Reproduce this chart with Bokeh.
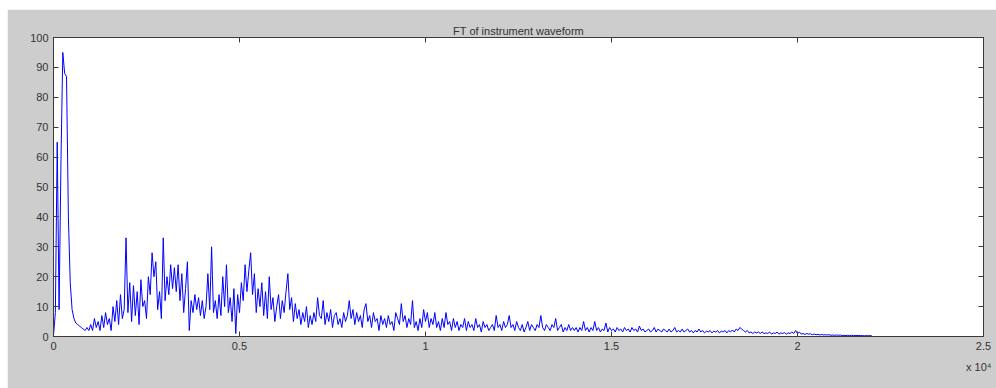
import numpy as np
from bokeh.plotting import figure
from bokeh.models import Range1d, LinearAxis, FixedTicker, Title, Spacer
from bokeh.layouts import column, row
from bokeh.embed import file_html
from bokeh.resources import INLINE

# ---- data ----
title_text = "FT of instrument waveform"
bin_width_hz = 50
amplitude = [
    # 0 - 950 Hz
    0.5, 8, 65, 9, 58, 95, 88, 87, 40, 18, 9, 6, 4.5, 4, 3.5, 3, 2.5, 2, 3, 2,
    # 1000 - 1950
    4, 2, 6, 3, 5, 2, 7, 3, 8, 4, 6, 2, 10, 5, 12, 4, 14, 6, 9, 33,
    # 2000 - 2950
    8, 18, 5, 17, 7, 15, 4, 19, 10, 12, 6, 20, 14, 28, 20, 25, 9, 15, 6, 33,
    # 3000 - 3950
    12, 20, 14, 24, 16, 23, 15, 24, 12, 21, 8, 16, 25, 2, 12, 8, 14, 9, 13, 7,
    # 4000 - 4950
    12, 6, 10, 21, 9, 30, 8, 12, 6, 14, 7, 20, 10, 24, 8, 13, 5, 16, 1, 14,
    # 5000 - 5950
    8, 18, 12, 24, 15, 22, 28, 14, 21, 8, 16, 10, 18, 7, 15, 6, 20, 9, 13, 5,
    # 6000 - 6950
    10, 14, 6, 12, 8, 15, 21, 9, 13, 5, 11, 6, 9, 4, 8, 5, 10, 3, 7, 4,
    # 7000 - 7950
    8, 5, 13, 7, 6, 12, 4, 8, 5, 9, 3, 7, 8, 4, 6, 3, 8, 5, 7, 12,
    # 8000 - 8950
    6, 9, 4, 8, 5, 7, 3, 9, 11, 5, 7, 3, 8, 5, 6, 2, 7, 4, 6, 3,
    # 9000 - 9950
    7, 4, 5, 2, 8, 6, 4, 11, 5, 7, 3, 6, 4, 12, 3, 5, 2, 6, 3, 9,
    # 10000 - 10950
    5, 8, 3, 6, 4, 8, 3, 5, 2, 6, 3, 8, 4, 5, 2, 6, 3, 5, 2, 4,
    # 11000 - 11950
    3, 6, 2, 5, 3, 4, 2, 6, 3, 4, 1.5, 5, 3, 4, 2, 3, 4, 2, 7, 3,
    # 12000 - 12950
    4, 2, 5, 3, 4, 7, 3, 4, 2, 5, 3, 2, 4, 1.5, 3, 5, 2, 4, 3, 2,
    # 13000 - 13950
    4, 3, 7, 3, 2, 4, 3, 2, 4, 3, 6, 2, 3, 4, 1.5, 3, 2, 4, 2, 3,
    # 14000 - 14950
    2, 3, 1.5, 3, 2, 5, 2, 3, 1.5, 3, 2, 5, 2, 3, 1.5, 2.5, 2, 4.5, 1.5, 3,
    # 15000 - 15950
    2, 2.5, 1.5, 3, 2, 2.5, 1.5, 3, 2, 2.5, 1.5, 3, 2, 2.5, 1.5, 3.5, 2, 2.5, 1.5, 2,
    # 16000 - 16950
    2.5, 1.5, 2, 3, 1.5, 2.5, 2, 1.5, 2.5, 2, 1.5, 2.5, 1.5, 2, 3, 1.5, 2, 1.5, 2.5, 1.5,
    # 17000 - 17950
    2, 2.5, 1.5, 2, 1.2, 2, 1.5, 2.5, 1.5, 2, 1.2, 1.8, 1.5, 2, 1.2, 1.8, 1.5, 2, 1.2, 1.8,
    # 18000 - 18950
    1.5, 2, 1.2, 2, 1.5, 2.2, 1.5, 2.5, 2, 3, 2.5, 2, 1.5, 2, 1.2, 1.5, 1, 1.5, 1.2, 1.5,
    # 19000 - 19950
    1, 1.5, 1, 1.2, 1, 1.5, 0.8, 1.2, 1, 1.5, 0.8, 1.2, 1, 1.3, 0.8, 1.2, 1, 1.5, 1, 2,
    # 20000 - 20950
    1, 1.5, 0.8, 1, 0.7, 1, 0.8, 0.9, 0.6, 0.8, 0.6, 0.7, 0.5, 0.7, 0.5, 0.6, 0.5, 0.6, 0.4, 0.5,
    # 21000 - 22000
    0.4, 0.5, 0.4, 0.5, 0.3, 0.4, 0.3, 0.4, 0.3, 0.4, 0.3, 0.35, 0.3, 0.35, 0.3, 0.3, 0.25, 0.3, 0.25, 0.3, 0.2,
]
frequency = np.arange(len(amplitude)) * bin_width_hz

x_ticks = [0, 5000, 10000, 15000, 20000, 25000]
x_tick_labels = ["0", "0.5", "1", "1.5", "2", "2.5"]
y_ticks = [0, 10, 20, 30, 40, 50, 60, 70, 80, 90, 100]
x_exponent_label = "x 10\u2074"

# ---- styling ----
FONT = "Liberation Sans"
GRAY_BG = "#cdcdcd"
AX = "#3a3a3a"
TXT = "#333333"

p = figure(
    width=989, height=379,
    x_range=Range1d(0, 25000), y_range=Range1d(0, 100),
    output_backend="svg", toolbar_location=None,
    title=title_text,
    min_border_left=46, min_border_right=13, min_border_top=28, min_border_bottom=52,
    background_fill_color="white", border_fill_color=GRAY_BG,
    outline_line_color=AX, outline_line_width=1,
)
p.title.align = "center"
p.title.text_font = FONT
p.title.text_font_size = "11px"
p.title.text_font_style = "normal"
p.title.text_color = TXT
p.title.standoff = 2

p.xgrid.visible = False
p.ygrid.visible = False

p.line(frequency, amplitude, line_color="#0000ff", line_width=1)

def style_axis(ax, ticks, show_labels=True, overrides=None):
    ax.ticker = FixedTicker(ticks=ticks)
    ax.axis_line_color = AX
    ax.major_tick_line_color = AX
    ax.major_tick_in = 5
    ax.major_tick_out = 0
    ax.minor_tick_line_color = None
    ax.major_label_text_font = FONT
    ax.major_label_text_font_size = "11px"
    ax.major_label_text_color = TXT
    if show_labels:
        if overrides:
            ax.major_label_overrides = overrides
        ax.major_label_standoff = 5
    else:
        ax.major_label_overrides = {t: "" for t in ticks}
        ax.major_label_standoff = 0

style_axis(p.xaxis[0], x_ticks, True, dict(zip(x_ticks, x_tick_labels)))
style_axis(p.yaxis[0], y_ticks, True)

top_axis = LinearAxis()
style_axis(top_axis, x_ticks, False)
p.add_layout(top_axis, "above")
right_axis = LinearAxis()
style_axis(right_axis, y_ticks, False)
p.add_layout(right_axis, "right")

exp_title = Title(
    text=x_exponent_label, align="right", offset=-8, standoff=12,
    text_font=FONT, text_font_size="11px", text_font_style="normal", text_color=TXT,
)
p.add_layout(exp_title, "below")

layout = column(Spacer(height=9, width=996), row(Spacer(width=7, height=379), p))

open("out.html", "w").write(file_html(layout, INLINE))
